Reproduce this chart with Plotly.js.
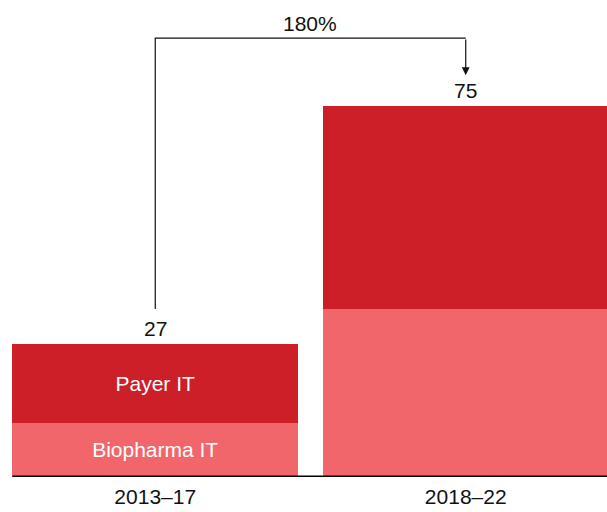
<!DOCTYPE html>
<html>
<head>
<meta charset="utf-8">
<script src="https://cdn.plot.ly/plotly-3.0.1.min.js"></script>
<style>
  html, body { margin: 0; padding: 0; background: #fff; }
  #graph { width: 607px; height: 512px; }
</style>
</head>
<body>
<div id="graph"></div>
<script>
const periods = ['2013–17', '2018–22'];
const biopharma = [11, 34];
const payer = [16, 41];
const totals = [27, 75];
const growthLabel = '180%';

const font = 'Liberation Sans, Arial, sans-serif';
const fsize = 21;

let bio_bars = {
    type: 'bar',
    x: periods,
    y: biopharma,
    name: 'Biopharma IT',
    width: 0.92,
    marker: {color: '#F0666A'},
    text: ['Biopharma IT', ''],
    textposition: 'inside',
    insidetextanchor: 'middle',
    textfont: {color: '#fff', size: fsize, family: font},
    hoverinfo: 'none'
};

let payer_bars = {
    type: 'bar',
    x: periods,
    y: payer,
    name: 'Payer IT',
    width: 0.92,
    marker: {color: '#CC1F27'},
    text: ['Payer IT', ''],
    textposition: 'inside',
    insidetextanchor: 'middle',
    textfont: {color: '#fff', size: fsize, family: font},
    hoverinfo: 'none'
};

// total labels above each bar
let annotations = totals.map((t, i) => ({
    x: periods[i], y: t, xref: 'x', yref: 'y',
    text: String(t), showarrow: false,
    yanchor: 'bottom', yshift: 2,
    font: {size: fsize, color: '#111', family: font}
}));

const bracketTop = Math.max(...totals) + 13.8;
const bracketStart = totals[0] + 7;

// arrow head into the second bar
annotations.push({
    x: 1, y: totals[1] + 6.3, xref: 'x', yref: 'y',
    ax: 1, ay: bracketTop, axref: 'x', ayref: 'y',
    showarrow: true, arrowhead: 2, arrowsize: 1.3, arrowwidth: 1.2,
    arrowcolor: '#111', text: ''
});
annotations.push({
    x: 0.5, y: bracketTop, xref: 'x', yref: 'y',
    text: growthLabel, showarrow: false,
    yanchor: 'bottom', yshift: 1,
    font: {size: fsize, color: '#111', family: font}
});

let shapes = [
    {
        type: 'path', xref: 'x', yref: 'y',
        path: `M 0,${bracketStart} L 0,${bracketTop} L 1,${bracketTop}`,
        line: {color: '#111', width: 1.2}
    },
    {
        type: 'line', xref: 'x', yref: 'y',
        x0: -0.46, x1: 1.6, y0: 0, y1: 0,
        line: {color: '#000', width: 3}
    }
];

let layout = {
    width: 607,
    height: 512,
    barmode: 'stack',
    showlegend: false,
    margin: {l: 0, r: 0, t: 0, b: 35},
    paper_bgcolor: '#fff',
    plot_bgcolor: '#fff',
    font: {family: font, size: fsize, color: '#111'},
    xaxis: {
        type: 'category',
        range: [-0.5, 1.455],
        showgrid: false,
        zeroline: false,
        showline: false,
        ticks: '',
        ticklabelstandoff: 5,
        tickfont: {size: fsize, color: '#111', family: font},
        fixedrange: true
    },
    yaxis: {
        range: [0, 96.5],
        visible: false,
        fixedrange: true
    },
    annotations: annotations,
    shapes: shapes
};

Plotly.newPlot('graph', [bio_bars, payer_bars], layout, {displayModeBar: false, staticPlot: true});
</script>
</body>
</html>
